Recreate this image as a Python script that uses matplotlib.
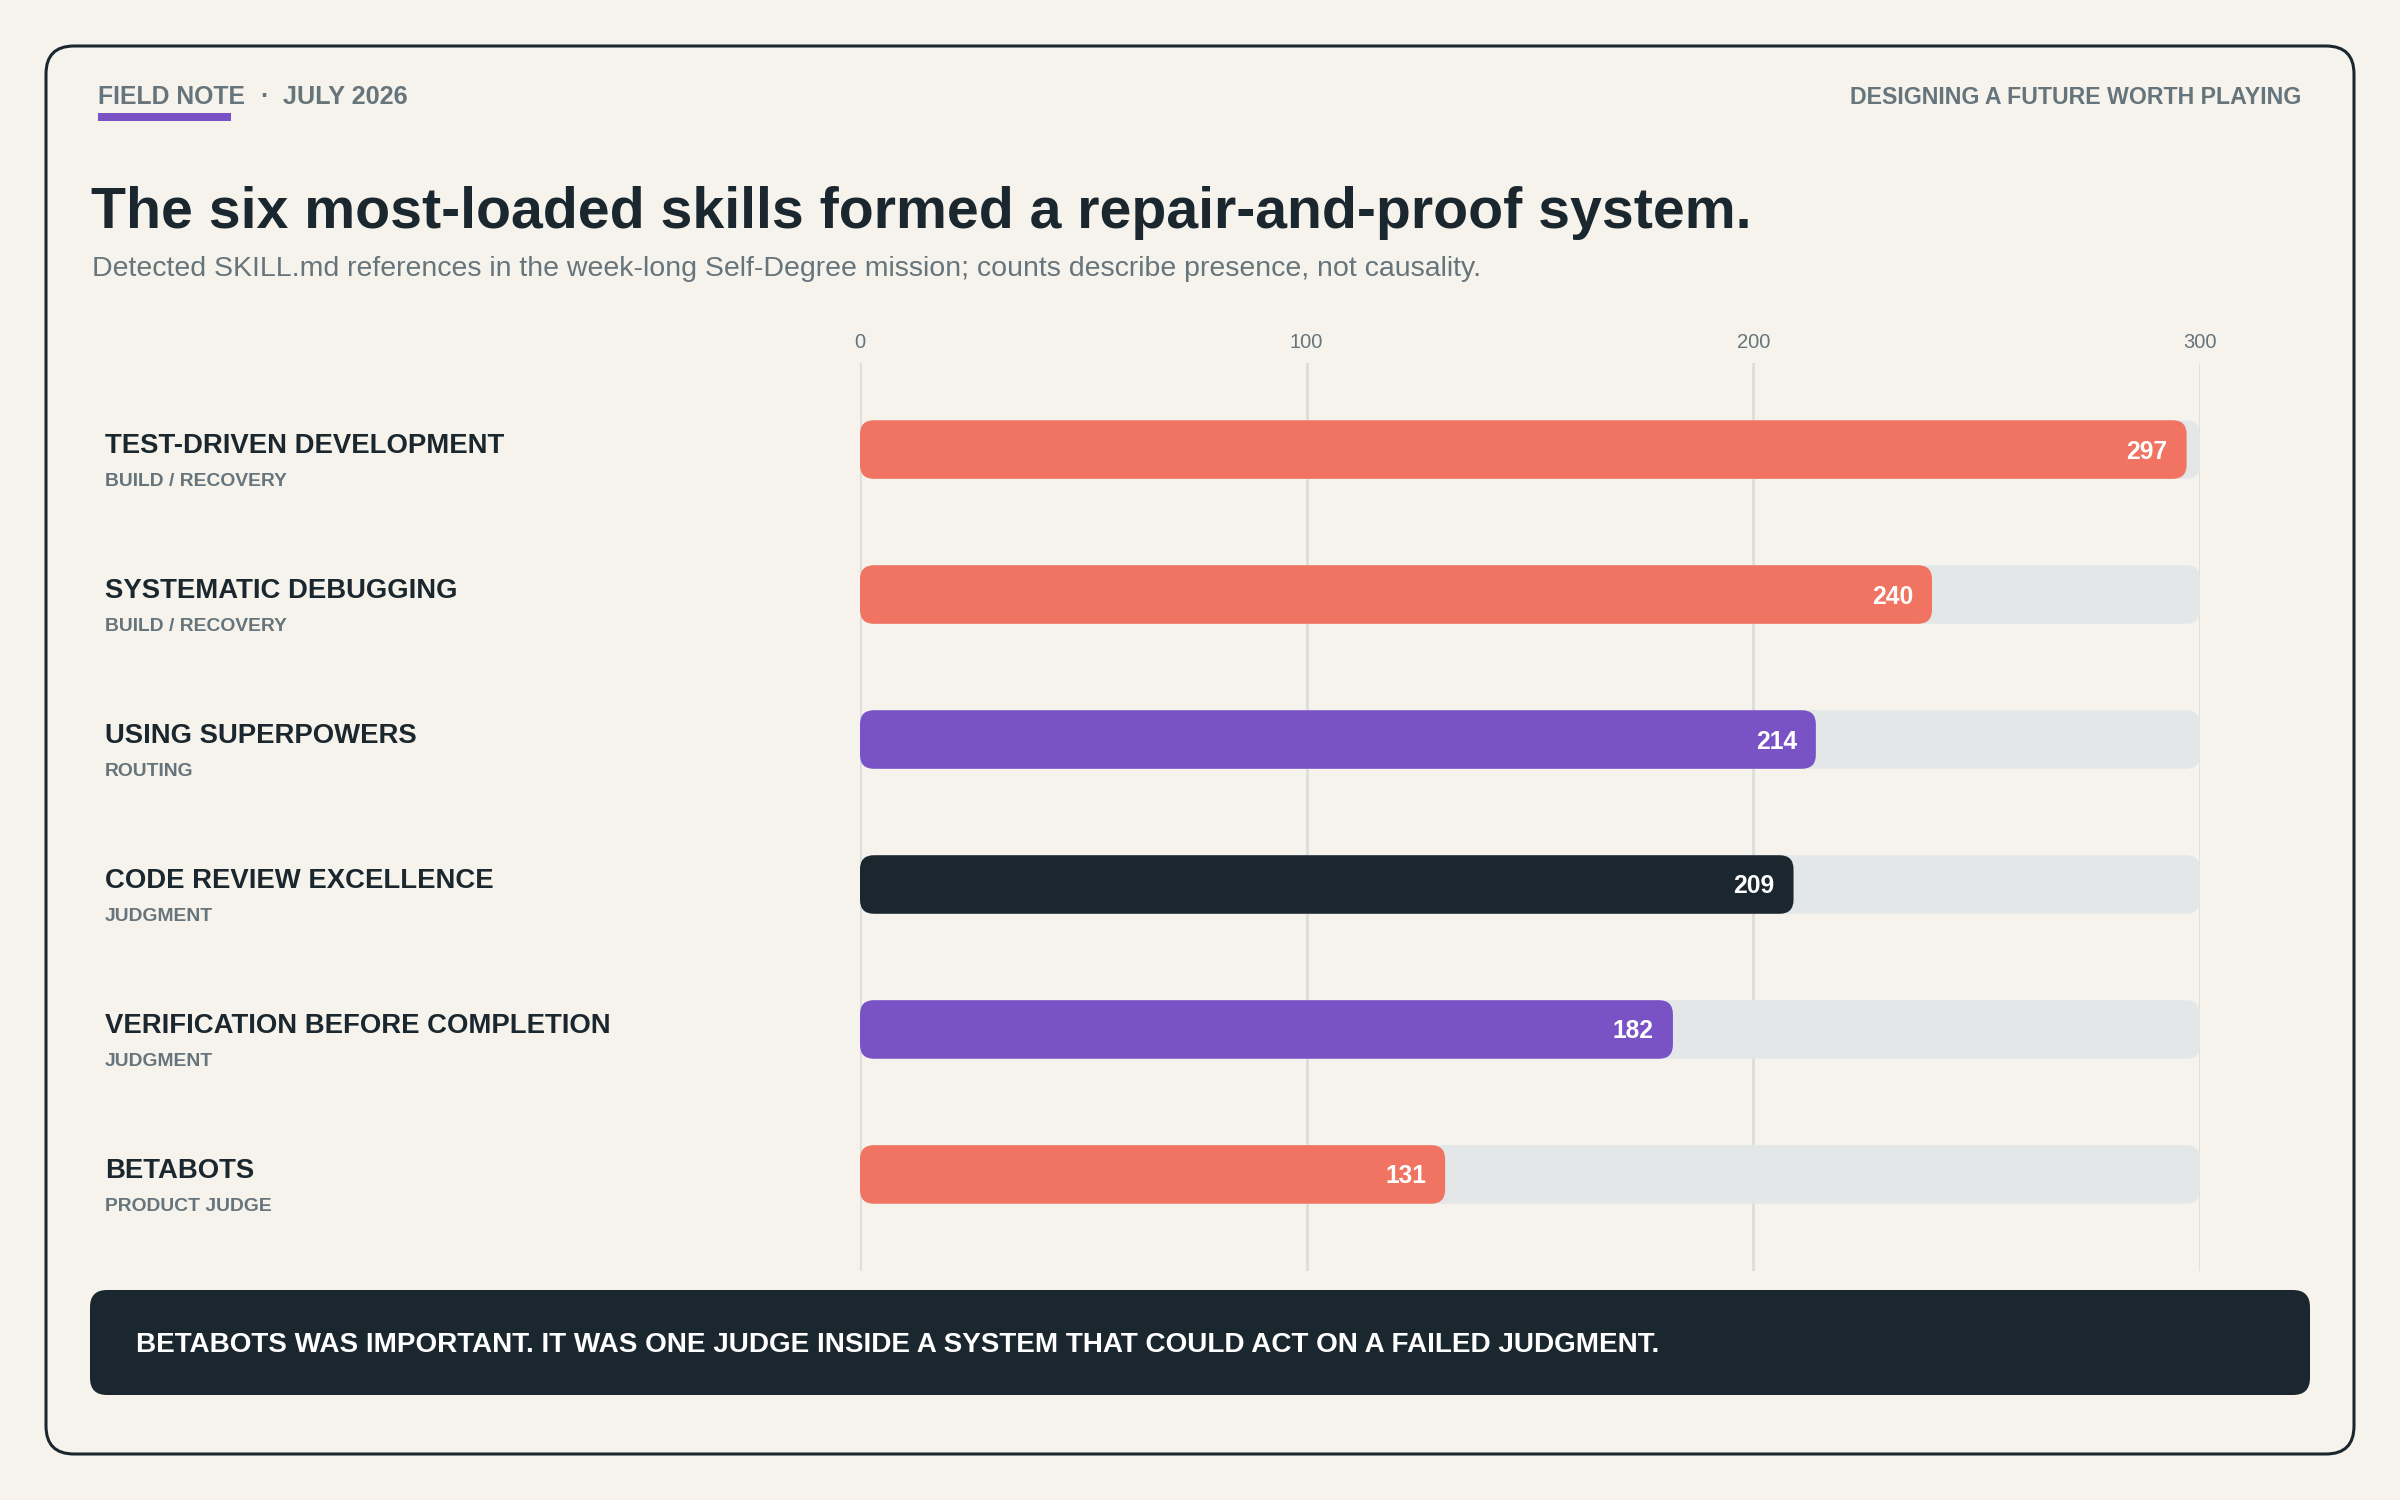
import matplotlib
matplotlib.use("Agg")
import matplotlib.pyplot as plt
import matplotlib.transforms as mtransforms
from matplotlib.patches import FancyBboxPatch, Rectangle

plt.rcParams['font.family'] = ['Liberation Sans', 'DejaVu Sans']

# data
skills = ["TEST-DRIVEN DEVELOPMENT", "SYSTEMATIC DEBUGGING", "USING SUPERPOWERS",
          "CODE REVIEW EXCELLENCE", "VERIFICATION BEFORE COMPLETION", "BETABOTS"]
groups = ["BUILD / RECOVERY", "BUILD / RECOVERY", "ROUTING",
          "JUDGMENT", "JUDGMENT", "PRODUCT JUDGE"]
counts = [297, 240, 214, 209, 182, 131]
bar_colors = ["#F07461", "#F07461", "#7952C6", "#1B272E", "#7952C6", "#F07461"]
x_max = 300
x_ticks = [0, 100, 200, 300]

BG = "#F6F3EC"
DARK = "#1B272E"
GRAY = "#66747B"
TRACK = "#E3E7E8"
GRID = "#D8DCDD"

W, H = 2400, 1500
fig = plt.figure(figsize=(24, 15), dpi=100, facecolor=BG)

def fx(x):
    return x / W

def fy(y):
    return 1 - y / H

# outer card
card = FancyBboxPatch((fx(46), fy(1454)), fx(2354) - fx(46), fy(46) - fy(1454),
                      boxstyle="round,pad=0,rounding_size=%f" % fx(28),
                      mutation_aspect=W / H, transform=fig.transFigure,
                      facecolor='none', edgecolor=DARK, lw=2.2, zorder=-1)
fig.patches.append(card)

# header
fig.text(fx(98), fy(104), "FIELD NOTE", fontsize=17.8, fontweight='bold', color=GRAY, va='baseline')
fig.patches.append(Rectangle((fx(98), fy(121)), fx(133), 8 / H, transform=fig.transFigure,
                             facecolor="#7952C6", edgecolor='none'))
fig.text(fx(264), fy(104), "·", fontsize=17.8, fontweight='bold', color=GRAY, va='baseline', ha='center')
fig.text(fx(283), fy(104), "JULY 2026", fontsize=18.2, fontweight='bold', color=GRAY, va='baseline')
fig.text(fx(2301), fy(104), "DESIGNING A FUTURE WORTH PLAYING", fontsize=16.7, fontweight='bold',
         color=GRAY, va='baseline', ha='right')

fig.text(fx(91), fy(228), "The six most-loaded skills formed a repair-and-proof system.",
         fontsize=41.2, fontweight='bold', color=DARK, va='baseline')
fig.text(fx(92), fy(276), "Detected SKILL.md references in the week-long Self-Degree mission; "
         "counts describe presence, not causality.", fontsize=20.5, color=GRAY, va='baseline')

# chart
ax_l, ax_r, ax_t, ax_b = 860, 2200, 363, 1271
ax = fig.add_axes([fx(ax_l), fy(ax_b), fx(ax_r - ax_l), (ax_b - ax_t) / H])
ax.set_facecolor('none')
ax.set_xlim(0, x_max)
y_top, y_bot = -0.597, 5.666
ax.set_ylim(y_bot, y_top)
for s in ax.spines.values():
    s.set_visible(False)
ax.xaxis.tick_top()
ax.set_xticks(x_ticks)
ax.set_xticklabels([str(t) for t in x_ticks])
ax.tick_params(axis='x', length=0, pad=7.7, labelsize=14.5, labelcolor=GRAY)
ax.set_yticks([])
ax.grid(axis='x', color=GRID, lw=1.8, zorder=0)
ax.set_axisbelow(True)

px_x = (ax_r - ax_l) / x_max
px_y = (ax_b - ax_t) / (y_bot - y_top)
asp = px_x / px_y
bar_h = 0.404
rad = 14 / px_x

for i, v in enumerate(counts):
    track = FancyBboxPatch((0, i - bar_h / 2), x_max, bar_h,
                           boxstyle="round,pad=0,rounding_size=%f" % rad,
                           mutation_aspect=asp, facecolor=TRACK, edgecolor='none', zorder=2)
    ax.add_patch(track)
    bar = FancyBboxPatch((0, i - bar_h / 2), v, bar_h,
                         boxstyle="round,pad=0,rounding_size=%f" % rad,
                         mutation_aspect=asp, facecolor=bar_colors[i], edgecolor='none', zorder=3)
    ax.add_patch(bar)
    ax.annotate(str(v), xy=(v, i), xytext=(-19, -9), textcoords='offset pixels',
                ha='right', va='baseline', fontsize=17.7, fontweight='bold', color='white', zorder=4)

lab_tr = mtransforms.blended_transform_factory(fig.transFigure, ax.transData)
for i in range(len(skills)):
    ax.text(fx(105), i + 0.024, skills[i], transform=lab_tr, fontsize=19.8, fontweight='bold',
            color=DARK, va='baseline', ha='left')
    ax.text(fx(105), i + 0.252, groups[i], transform=lab_tr, fontsize=13.9, fontweight='bold',
            color=GRAY, va='baseline', ha='left')

# callout
callout = FancyBboxPatch((fx(90), fy(1395)), fx(2310) - fx(90), fy(1290) - fy(1395),
                         boxstyle="round,pad=0,rounding_size=%f" % fx(17),
                         mutation_aspect=W / H, transform=fig.transFigure,
                         facecolor=DARK, edgecolor='none')
fig.patches.append(callout)
fig.text(fx(136), fy(1352), "BETABOTS WAS IMPORTANT. IT WAS ONE JUDGE INSIDE A SYSTEM THAT COULD ACT ON A FAILED JUDGMENT.",
         fontsize=20.1, fontweight='bold', color='white', va='baseline')

fig.savefig("out.png", dpi=100, facecolor=BG)
